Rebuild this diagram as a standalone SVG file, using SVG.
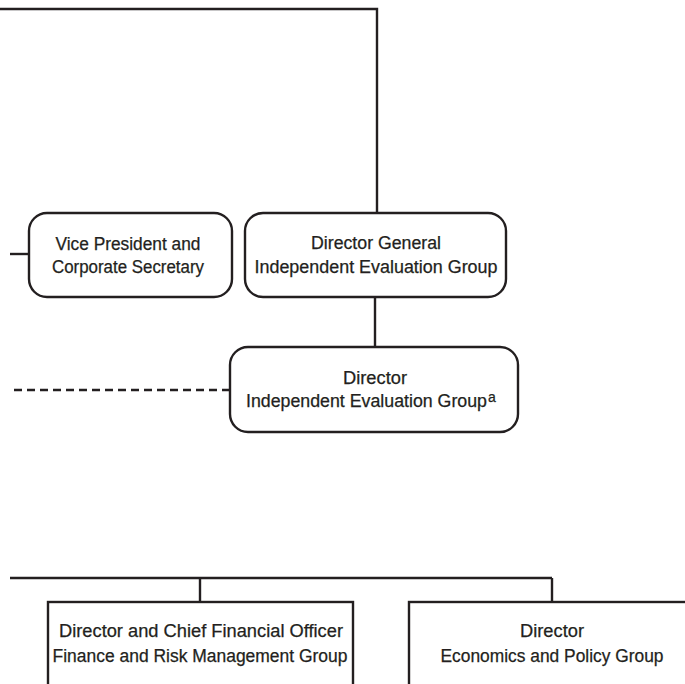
<svg xmlns="http://www.w3.org/2000/svg" width="685" height="684" viewBox="0 0 685 684">
<style>
.box{fill:#fff;stroke:#231f20;stroke-width:2.4}
.ln{fill:none;stroke:#231f20;stroke-width:2.4}
.dash{fill:none;stroke:#231f20;stroke-width:2.4;stroke-dasharray:8 5}
text{font-family:"Liberation Sans",Arial,sans-serif;font-size:17.5px;fill:#231f20;text-anchor:middle;stroke:#231f20;stroke-width:0.25}
.st{text-anchor:start}
</style>
<rect width="685" height="684" fill="#fff"/>
<g id="connectors">
<path class="ln" d="M0 9 H377 V213"/>
<path class="ln" d="M10 254 H29"/>
<path class="ln" d="M375 297 V347"/>
<path class="dash" d="M14 390 H230"/>
<path class="ln" d="M10 578 H552"/>
<path class="ln" d="M200 578 V602"/>
<path class="ln" d="M552 578 V602"/>
</g>
<g id="vp">
<rect class="box" x="29" y="213" width="203" height="84" rx="18"/>
<text x="128" y="250" textLength="145" lengthAdjust="spacingAndGlyphs">Vice President and</text>
<text x="128" y="273" textLength="152" lengthAdjust="spacingAndGlyphs">Corporate Secretary</text>
</g>
<g id="dg">
<rect class="box" x="245" y="213" width="261" height="84" rx="18"/>
<text x="376" y="249" textLength="130" lengthAdjust="spacingAndGlyphs">Director General</text>
<text x="376" y="273" textLength="243" lengthAdjust="spacingAndGlyphs">Independent Evaluation Group</text>
</g>
<g id="dieg">
<rect class="box" x="230" y="347" width="288" height="85" rx="18"/>
<text x="375" y="384" textLength="64" lengthAdjust="spacingAndGlyphs">Director</text>
<text class="st" x="246" y="407" textLength="241" lengthAdjust="spacingAndGlyphs">Independent Evaluation Group</text>
<text class="st" x="488" y="402" style="font-size:14px">a</text>
</g>
<g id="cfo">
<rect class="box" x="48" y="602" width="305" height="90"/>
<text x="201" y="637" textLength="284" lengthAdjust="spacingAndGlyphs">Director and Chief Financial Officer</text>
<text x="200" y="662" textLength="295" lengthAdjust="spacingAndGlyphs">Finance and Risk Management Group</text>
</g>
<g id="epg">
<rect class="box" x="409" y="602" width="290" height="90"/>
<text x="552" y="637" textLength="64" lengthAdjust="spacingAndGlyphs">Director</text>
<text x="552" y="662" textLength="223" lengthAdjust="spacingAndGlyphs">Economics and Policy Group</text>
</g>
</svg>
